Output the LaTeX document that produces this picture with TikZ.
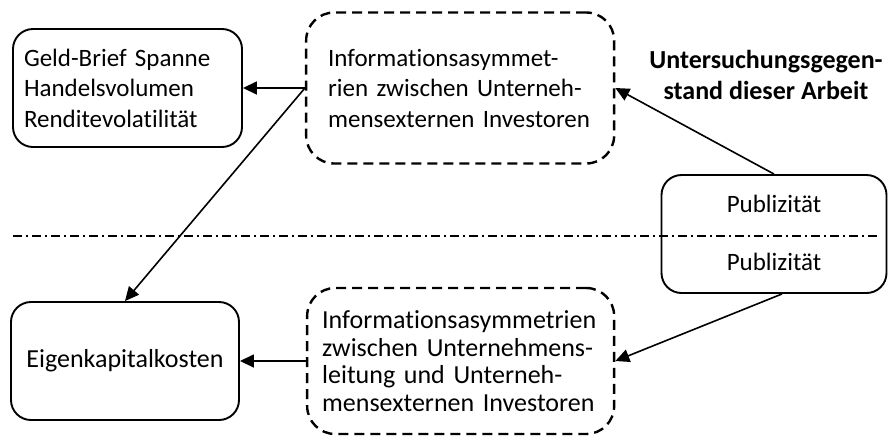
\documentclass[tikz,border=0pt]{standalone}
\usepackage{fontspec}
\setmainfont{Carlito}[Ligatures=NoCommon, RawFeature={-liga;-clig;-calt;-dlig}]
\usepackage{tikz}
\usetikzlibrary{arrows.meta, positioning}
\newcommand{\fullline}[1]{\makebox[\linewidth][s]{#1}}

\begin{document}
\begin{tikzpicture}[x=1pt, y=-1pt,
    arr/.style={-{Triangle[length=14pt, width=13pt]}, line width=1.6pt},
    solidbox/.style={draw, line width=1.9pt, rounded corners=20pt,
                     minimum width=228pt, minimum height=118pt},
    dashbox/.style={draw, line width=2.4pt, dash pattern=on 10pt off 6pt,
                    rounded corners=28pt, align=left},
    sepline/.style={line width=1.6pt, dash pattern=on 9pt off 4pt on 2pt off 4pt},
    every node/.style={font=\fontsize{25}{30.5}\selectfont, inner sep=0pt},
]
\useasboundingbox (0,0) rectangle (888,437);

% upper half
\node[solidbox, text width=207pt, inner xsep=11pt, align=left] (geld) at (127.5,88)
    {Geld-Brief Spanne\\Handelsvolumen\\Renditevolatilität};
\node[dashbox, text width=264pt, inner xsep=22pt, minimum height=151pt, right=62pt of geld] (info1)
    {Informationsasymmet-\\\fullline{rien zwischen Unterneh-}\\\fullline{mensexternen Investoren}};
\node[font=\fontsize{26}{30.5}\selectfont\bfseries, align=center] (thema) at (766,75)
    {Untersuchungsgegen-\\stand dieser Arbeit};

% lower half
\node[solidbox, font=\fontsize{26}{30}\selectfont] (eigen) at (125,361) {Eigenkapitalkosten};
\node[dashbox, text width=277pt, inner xsep=15pt, minimum height=146pt,
      font=\fontsize{26}{27.5}\selectfont, right=66pt of eigen] (info2)
    {Informationsasymmetrien\\\fullline{zwischen Unternehmens-}\\\fullline{leitung und Unterneh-}\\\fullline{mensexternen Investoren}};

% Publizitaet spans both halves
\node[solidbox, minimum width=225pt] (pub) at (774,234) {};
\node[anchor=base] (pubtop) at ([yshift=22pt]pub.center) {Publizität};
\node[anchor=base] (pubbot) at ([yshift=-36pt]pub.center) {Publizität};

\coordinate (sepL) at (13,236);
\coordinate (sepR) at (878,236);
\draw[sepline] (sepL) -- (sepR);

\draw[arr] (info1.west) -- (geld.east);
\draw[arr] (info1.west) -- (eigen.north);
\draw[arr] (info2.west) -- (eigen.east);
\draw[arr] (pub.north) -- (info1.east);
\draw[arr] ([xshift=8pt]pub.south) -- (info2.east);
\end{tikzpicture}
\end{document}
